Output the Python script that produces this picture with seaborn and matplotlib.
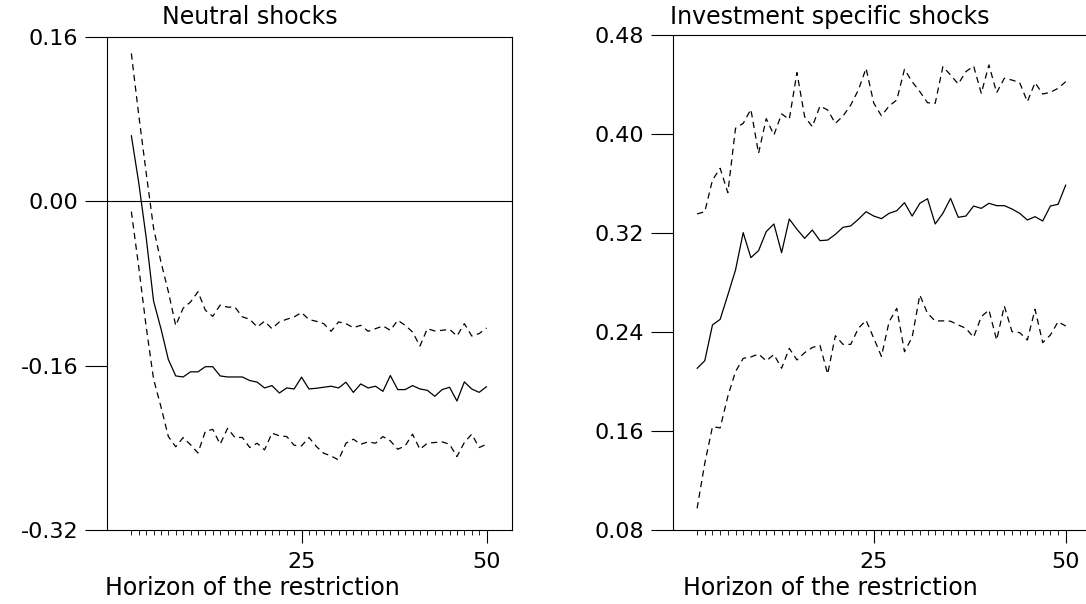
import matplotlib
matplotlib.use("Agg")
import matplotlib.pyplot as plt
import seaborn as sns
import pandas as pd

# ---------------- data ----------------
horizon = list(range(2, 51))

neutral_median = [0.064, 0.018, -0.035, -0.097, -0.124, -0.154, -0.170, -0.171, -0.166, -0.166,
                  -0.161, -0.161, -0.170, -0.171, -0.171, -0.171, -0.1745, -0.176, -0.1817, -0.1794,
                  -0.1866, -0.1817, -0.1827, -0.1712, -0.1827, -0.182, -0.181, -0.180, -0.1817, -0.1761,
                  -0.186, -0.1778, -0.1817, -0.180, -0.185, -0.1696, -0.1833, -0.1833, -0.1794, -0.1827,
                  -0.184, -0.1898, -0.1833, -0.181, -0.1944, -0.1758, -0.1827, -0.186, -0.1804]
neutral_upper = [0.144, 0.084, 0.028, -0.026, -0.059, -0.088, -0.121, -0.104, -0.098, -0.088,
                 -0.106, -0.112, -0.101, -0.103, -0.103, -0.1125, -0.1148, -0.1223, -0.1168, -0.124,
                 -0.1174, -0.1148, -0.1125, -0.1083, -0.1151, -0.1168, -0.1191, -0.1265, -0.1174, -0.1191,
                 -0.123, -0.1207, -0.1265, -0.124, -0.1213, -0.1256, -0.1158, -0.1207, -0.1272, -0.1409,
                 -0.124, -0.1262, -0.1256, -0.1246, -0.1311, -0.1191, -0.1311, -0.1288, -0.1233]
neutral_lower = [-0.010, -0.064, -0.122, -0.173, -0.200, -0.229, -0.239, -0.230, -0.237, -0.245,
                 -0.224, -0.222, -0.2365, -0.221, -0.230, -0.2299, -0.2397, -0.2355, -0.242, -0.2257,
                 -0.2283, -0.229, -0.2375, -0.2381, -0.2299, -0.2387, -0.2453, -0.2479, -0.2518, -0.2355,
                 -0.2316, -0.2365, -0.2342, -0.2355, -0.229, -0.2332, -0.2414, -0.2381, -0.2267, -0.2414,
                 -0.2355, -0.2348, -0.2342, -0.2365, -0.2485, -0.2348, -0.2267, -0.2397, -0.2365]

invest_median = [0.2106, 0.2168, 0.2457, 0.2502, 0.2699, 0.2901, 0.3203, 0.3001, 0.3057, 0.3211,
                 0.3273, 0.3041, 0.3313, 0.323, 0.3157, 0.3224, 0.3138, 0.3143, 0.3189, 0.3246,
                 0.3257, 0.3311, 0.3372, 0.3337, 0.3316, 0.3359, 0.338, 0.3445, 0.3337, 0.344,
                 0.3477, 0.3273, 0.3359, 0.348, 0.3327, 0.3337, 0.3418, 0.3399, 0.344, 0.3421,
                 0.3421, 0.3394, 0.3359, 0.3305, 0.3332, 0.3297, 0.3418, 0.3432, 0.3588]
invest_upper = [0.3354, 0.3372, 0.3628, 0.3723, 0.3526, 0.4046, 0.4086, 0.4199, 0.3844, 0.4124,
                0.3992, 0.4162, 0.4119, 0.4496, 0.414, 0.4059, 0.4226, 0.4194, 0.4086, 0.4145,
                0.4234, 0.4356, 0.4531, 0.4250, 0.4147, 0.4226, 0.4275, 0.4523, 0.4423, 0.4342,
                0.4253, 0.4248, 0.4544, 0.4477, 0.4404, 0.4504, 0.4549, 0.4329, 0.4558, 0.4334,
                0.445, 0.4436, 0.4415, 0.4261, 0.4415, 0.4323, 0.4337, 0.4369, 0.4423]
invest_lower = [0.0975, 0.134, 0.1635, 0.1625, 0.188, 0.208, 0.2187, 0.2198, 0.2222, 0.2167,
                0.2218, 0.2107, 0.2268, 0.2174, 0.2233, 0.2275, 0.2292, 0.206, 0.237, 0.23,
                0.23, 0.243, 0.2494, 0.235, 0.2203, 0.2483, 0.2591, 0.2241, 0.2357, 0.2699,
                0.2551, 0.2489, 0.249, 0.2487, 0.2457, 0.243, 0.2357, 0.2524, 0.2578, 0.2335,
                0.261, 0.2403, 0.2395, 0.2335, 0.2583, 0.2314, 0.2376, 0.2483, 0.2448]

panel_titles = ["Neutral shocks", "Investment specific shocks"]
x_label = "Horizon of the restriction"
neutral_yticks = [-0.32, -0.16, 0.00, 0.16]
invest_yticks = [0.08, 0.16, 0.24, 0.32, 0.40, 0.48]
x_major_ticks = [25, 50]

# ---------------- style ----------------
sns.set_theme(style="white")
plt.rcParams['font.family'] = ['DejaVu Sans']
plt.rcParams['axes.edgecolor'] = 'black'
plt.rcParams['axes.linewidth'] = 0.8
plt.rcParams['text.color'] = 'black'
plt.rcParams['axes.labelcolor'] = 'black'
plt.rcParams['axes.titlecolor'] = 'black'
plt.rcParams['xtick.color'] = 'black'
plt.rcParams['ytick.color'] = 'black'
plt.rcParams['xtick.labelcolor'] = 'black'
plt.rcParams['ytick.labelcolor'] = 'black'

W, H = 1086, 604
fig = plt.figure(figsize=(W / 100, H / 100), dpi=100)
fig.patch.set_facecolor('white')

# axes placement in pixels
ax1 = fig.add_axes([107.3 / W, 1 - 530 / H, 404.4 / W, 493 / H])
ax2 = fig.add_axes([673.3 / W, 1 - 530 / H, 417.8 / W, 495 / H])

dash = (0, (5.0, 3.6))
lw = 0.9


def draw(ax, med, up, lo):
    df = pd.DataFrame({"h": horizon, "med": med, "up": up, "lo": lo})
    sns.lineplot(data=df, x="h", y="up", ax=ax, color="black", lw=lw, linestyle=dash)
    sns.lineplot(data=df, x="h", y="med", ax=ax, color="black", lw=lw)
    sns.lineplot(data=df, x="h", y="lo", ax=ax, color="black", lw=lw, linestyle=dash)


draw(ax1, neutral_median, neutral_upper, neutral_lower)
draw(ax2, invest_median, invest_upper, invest_lower)
ax1.axhline(0.0, color="black", lw=0.8)

ax1.set_xlim(-1.25, 53.4)
ax2.set_xlim(-1.1, 53.3)
ax1.set_ylim(-0.32, 0.16)
ax2.set_ylim(0.08, 0.48)

ax1.set_yticks(neutral_yticks)
ax1.set_yticklabels([f"{v:.2f}" for v in neutral_yticks])
ax2.set_yticks(invest_yticks)
ax2.set_yticklabels([f"{v:.2f}" for v in invest_yticks])

for ax in (ax1, ax2):
    ax.set_facecolor('white')
    ax.grid(False)
    ax.set_xticks(x_major_ticks)
    ax.set_xticklabels([str(v) for v in x_major_ticks])
    ax.set_xticks(horizon, minor=True)
    ax.tick_params(axis='x', which='major', direction='out', length=9.5, width=0.8,
                   pad=6.5, labelsize=16, color='black', labelcolor='black', bottom=True)
    ax.tick_params(axis='x', which='minor', direction='out', length=3.6, width=0.6,
                   color='black', bottom=True)
    ax.tick_params(axis='y', which='major', direction='out', length=15.5, width=0.8,
                   pad=5.5, labelsize=16, color='black', labelcolor='black', left=True)
    ax.set_ylabel("")
    ax.set_xlabel(x_label, fontsize=17, va='baseline', color='black')
    for s in ax.spines.values():
        s.set_visible(True)
        s.set_color('black')
        s.set_linewidth(0.8)

# title & label positions (pixel-derived)
ax1.set_title(panel_titles[0], fontsize=17, x=(250 - 107.3) / 404.4,
              y=1 + (37 - 24) / 493, pad=0, va='baseline', color='black')
ax2.set_title(panel_titles[1], fontsize=17, x=(830 - 673.3) / 417.8,
              y=1 + (35 - 24) / 495, pad=0, va='baseline', color='black')
ax1.xaxis.set_label_coords((252 - 107.3) / 404.4, (530 - 595) / 493)
ax2.xaxis.set_label_coords((830 - 673.3) / 417.8, (530 - 595) / 495)

fig.savefig("out.png", dpi=100, facecolor='white')
